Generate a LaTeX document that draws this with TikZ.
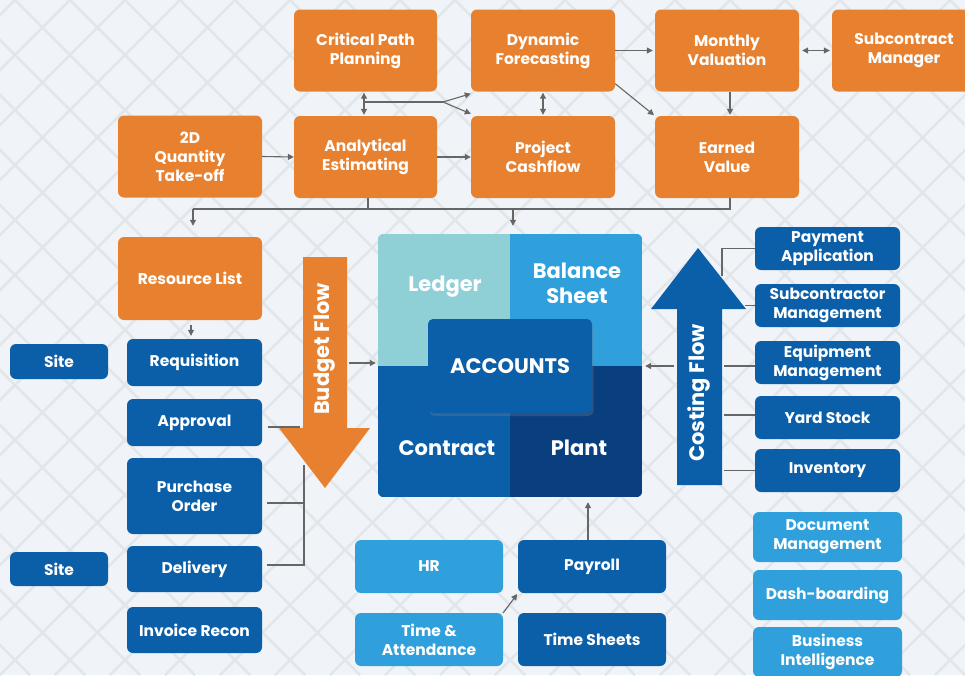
\documentclass[tikz,border=0pt]{standalone}
\usepackage{fontspec}
\setmainfont{Poppins}
\usetikzlibrary{arrows.meta,calc,shadows}
\definecolor{org}{HTML}{E8812F}
\definecolor{dblue}{HTML}{0B5FA9}
\definecolor{lblue}{HTML}{2FA0DC}
\definecolor{ledgercol}{HTML}{8FCFD6}
\definecolor{plantcol}{HTML}{0A3F7F}
\definecolor{conncol}{HTML}{666666}
\definecolor{bgcol}{HTML}{F0F4F8}
\definecolor{gridcol}{HTML}{E1E6EB}
\tikzset{
 box/.style={rounded corners=6pt, text=white, font=\bfseries\fontsize{15.5}{19}\selectfont, align=center, inner sep=2pt},
 obox/.style={box, fill=org},
 bbox/.style={box, fill=dblue},
 lbox/.style={box, fill=lblue},
 qlab/.style={text=white, font=\bfseries\fontsize{21}{25}\selectfont, align=center},
 flowlab/.style={text=white, font=\bfseries\fontsize{21}{24}\selectfont, rotate=90},
 conn/.style={draw=conncol, line width=1.1pt},
 arr/.style={conn, -{Triangle[length=6pt,width=6pt]}},
 darr/.style={conn, {Triangle[length=6pt,width=6pt]}-{Triangle[length=6pt,width=6pt]}},
}
\begin{document}
\begin{tikzpicture}[x=1pt,y=-1pt]
\useasboundingbox (0,0) rectangle (965,675);
\fill[bgcol] (0,0) rectangle (965,675);
\begin{scope}
\clip (0,0) rectangle (965,675);
\foreach \i in {-700,-645,...,1700} {
  \draw[gridcol, line width=2.5pt] (\i,0) -- ++(675,675);
  \draw[gridcol, line width=2.5pt] (\i,0) -- ++(-675,675);
}
\end{scope}

% top orange row
\node[obox, minimum width=143pt, minimum height=82pt] (cpp) at (365.5,50.5) {Critical Path\\Planning};
\node[obox, minimum width=144pt, minimum height=82pt] (dyn) at (543,50.5) {Dynamic\\Forecasting};
\node[obox, minimum width=144pt, minimum height=82pt] (mon) at (727,50.5) {Monthly\\Valuation};
\node[obox, minimum width=144pt, minimum height=82pt] (sub) at (904,50.5) {Subcontract\\Manager};
\node[obox, minimum width=144pt, minimum height=82pt] (qto) at (190,156.5) {2D\\Quantity\\Take-off};
\node[obox, minimum width=143pt, minimum height=82pt] (ana) at (365.5,157) {Analytical\\Estimating};
\node[obox, minimum width=144pt, minimum height=82pt] (pcf) at (543,157) {Project\\Cashflow};
\node[obox, minimum width=144pt, minimum height=82pt] (ev) at (727,157) {Earned\\Value};

% left column
\node[obox, minimum width=144pt, minimum height=83pt] (res) at (190,278.5) {Resource List};
\node[bbox, minimum width=135pt, minimum height=47pt] (req) at (194.5,362.5) {Requisition};
\node[bbox, minimum width=98pt, minimum height=35pt] (site1) at (59,361.5) {Site};
\node[bbox, minimum width=135pt, minimum height=47pt] (app) at (194.5,422.5) {Approval};
\node[bbox, minimum width=135pt, minimum height=76pt] (po) at (194.5,496) {Purchase\\Order};
\node[bbox, minimum width=135pt, minimum height=46pt] (del) at (194.5,569) {Delivery};
\node[bbox, minimum width=98pt, minimum height=34pt] (site2) at (59,569) {Site};
\node[bbox, minimum width=135pt, minimum height=46pt] (inv) at (194.5,630) {Invoice Recon};

% right column
\node[bbox, minimum width=145pt, minimum height=43pt] (pay) at (827.5,248.5) {Payment\\Application};
\node[bbox, minimum width=145pt, minimum height=43pt] (scm) at (827.5,305.5) {Subcontractor\\Management};
\node[bbox, minimum width=145pt, minimum height=43pt] (eqm) at (827.5,362.5) {Equipment\\Management};
\node[bbox, minimum width=145pt, minimum height=43pt] (yard) at (827.5,417.5) {Yard Stock};
\node[bbox, minimum width=145pt, minimum height=43pt] (invn) at (827.5,470.5) {Inventory};
\node[lbox, minimum width=149pt, minimum height=50pt] (doc) at (827.5,537) {Document\\Management};
\node[lbox, minimum width=149pt, minimum height=50pt] (dash) at (827.5,595) {Dash-boarding};
\node[lbox, minimum width=149pt, minimum height=50pt] (bi) at (827.5,652) {Business\\Intelligence};

% bottom
\node[lbox, minimum width=148pt, minimum height=53pt] (hr) at (429,566.5) {HR};
\node[bbox, minimum width=148pt, minimum height=53pt] (payroll) at (592,566.5) {Payroll};
\node[lbox, minimum width=148pt, minimum height=53pt] (ta) at (429,639.5) {Time \&\\Attendance};
\node[bbox, minimum width=148pt, minimum height=53pt] (ts) at (592,639.5) {Time Sheets};

% accounts square
\node[minimum width=264pt, minimum height=263pt, inner sep=0pt] (sq) at (510,365.5) {};
\begin{scope}
\clip[rounded corners=6pt] (sq.north west) rectangle (sq.south east);
\fill[ledgercol] (sq.north west) rectangle (sq.center);
\fill[lblue] (sq.north east) rectangle (sq.center);
\fill[dblue] (sq.south west) rectangle (sq.center);
\fill[plantcol] (sq.south east) rectangle (sq.center);
\end{scope}
\node[qlab] (ledger) at (445,287) {Ledger};
\node[qlab] (bal) at (577,283) {Balance\\Sheet};
\node[qlab] (contract) at (447,448) {Contract};
\node[qlab] (plant) at (579,448) {Plant};
\node[fill=dblue, rounded corners=5pt, minimum width=164pt, minimum height=94pt,
  drop shadow={opacity=0.3, shadow xshift=1.5pt, shadow yshift=-3pt},
  text=white, font=\bfseries\fontsize{21}{25}\selectfont] (acc) at (510,366) {ACCOUNTS};

% flow arrows
\fill[org] (303,257) -- (347,257) -- (347,428) -- (370,428) -- (325,488) -- (279,428) -- (303,428) -- cycle;
\node[flowlab] (bflow) at (325,349) {Budget Flow};
\fill[dblue] (677,485) -- (677,309) -- (651,309) -- (698,248) -- (746,309) -- (722,309) -- (722,485) -- cycle;
\node[flowlab] (cflow) at (699,393) {Costing Flow};

% coordinates
\coordinate (j1) at (364,102);
\coordinate (j2) at (443,102);
\coordinate (busL) at (193,209);
\coordinate (busM) at (513,209);
\coordinate (bA) at (300,427);
\coordinate (bT) at (304,465);
\coordinate (bP) at (304,503);
\coordinate (bD) at (304,565);
\coordinate (bOut) at (349,363);
\coordinate (cOut) at (674,366);
\coordinate (cP) at (722,276);

% top connectors
\draw[arr] (qto.east) -- (ana.west);
\draw[arr] (ana.east) -- (pcf.west);
\draw[arr, shorten >=2pt] (dyn.east) -- (mon.west);
\draw[darr, shorten <=3pt, shorten >=2pt] (mon.east) -- (sub.west);
\draw[arr, shorten >=1pt] ([xshift=3pt]mon.south) -- ([xshift=3pt]ev.north);
\draw[arr, shorten >=1pt] ($(dyn.south east)+(0,-8)$) -- (ev.north west);
\draw[darr, shorten <=1pt, shorten >=1pt] ([xshift=-1.5pt]cpp.south) -- ([xshift=-1.5pt]ana.north);
\draw[conn] (j1) -- (j2);
\draw[arr] (j2) -- ($(dyn.south west)+(0,2)$);
\draw[arr] (j2) -- ($(pcf.north west)+(0,-2)$);
\draw[darr, shorten <=1pt, shorten >=1pt] (dyn.south) -- (pcf.north);

% bus
\draw[conn] ([xshift=2.5pt]ana.south) -- ([xshift=2.5pt]ana.south |- busL);
\draw[conn] ([xshift=3pt]ev.south) |- (busL);
\draw[arr, shorten >=11pt] (busL) -- (busL |- res.north);
\draw[arr, shorten >=8pt] (busM) -- (busM |- sq.north);

% left connectors
\draw[arr, shorten <=5pt, shorten >=3pt] ([xshift=1pt]res.south) -- ([xshift=1pt]res.south |- req.north);
\draw[conn] ($(app.east)+(6,4.5)$) -- (bA);
\draw[conn] (bT) -- (bD) -- ($(del.east)+(5,-4)$);
\draw[conn] (bP) -- ($(po.east)+(5,7)$);
\draw[arr, shorten >=2pt] (bOut) -- (bOut -| sq.west);

% right connectors
\draw[arr, shorten >=3pt] (cOut) -- (cOut -| sq.east);
\draw[conn] (pay.west) -| (cP);
\draw[conn] (scm.west) -- ++(-10,0);
\draw[conn] ($(eqm.west)+(0,3.5)$) -- ++(-31,0);
\draw[conn] ($(yard.west)+(0,-2.5)$) -- ++(-31,0);
\draw[conn] (invn.west) -- ++(-31,0);

% bottom connectors
\draw[arr, shorten >=5pt] ([xshift=-4pt]payroll.north) -- ([xshift=-4pt]payroll.north |- sq.south);
\draw[arr, shorten >=1pt] (ta.north east) -- (payroll.south west);
\end{tikzpicture}
\end{document}
